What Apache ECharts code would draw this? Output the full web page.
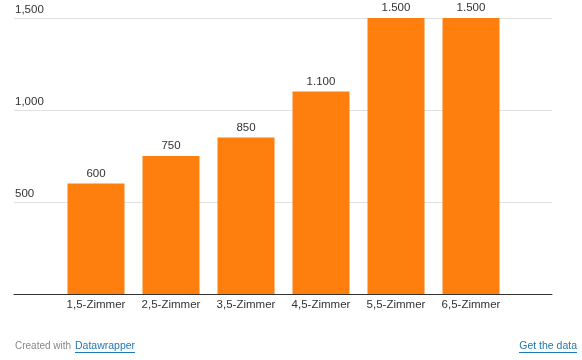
<!DOCTYPE html>
<html>
<head>
<meta charset="utf-8">
<style>html,body{margin:0;padding:0;background:#fff;}#c{width:582px;height:360px;}</style>
<script src="https://cdn.jsdelivr.net/npm/echarts@6/dist/echarts.min.js"></script>
</head>
<body>
<div id="c"></div>
<script>
var categories = ['1,5-Zimmer','2,5-Zimmer','3,5-Zimmer','4,5-Zimmer','5,5-Zimmer','6,5-Zimmer'];
var values = [600, 750, 850, 1100, 1500, 1500];
var yTicks = [0, 500, 1000, 1500];

var FONT = '"Liberation Sans", Arial, sans-serif';
var chart = echarts.init(document.getElementById('c'), null, {renderer: 'canvas'});
function comma(v){ return String(v).replace(/\B(?=(\d{3})+(?!\d))/g, ','); }
function dot(v){ return String(v).replace(/\B(?=(\d{3})+(?!\d))/g, '.'); }

chart.setOption({
  animation: false,
  textStyle: {fontFamily: FONT},
  grid: [
    {left: 58.5, right: 73.5, top: 18, bottom: 66},
    {left: 14, right: 30, top: 18, bottom: 66}
  ],
  xAxis: [
    {gridIndex: 0, type: 'category', data: categories,
     axisLine: {show: false}, axisTick: {show: false},
     axisLabel: {interval: 0, color: '#333', fontSize: 11.5, margin: 5, fontFamily: FONT}},
    {gridIndex: 1, type: 'value', min: 0, max: 1, show: true,
     axisLine: {show: true, onZero: false, lineStyle: {color: '#333', width: 1}},
     axisTick: {show: false}, axisLabel: {show: false}, splitLine: {show: false}}
  ],
  yAxis: [
    {gridIndex: 0, type: 'value', min: yTicks[0], max: yTicks[yTicks.length-1], interval: 500,
     show: false, splitLine: {show: false}},
    {gridIndex: 1, type: 'value', min: yTicks[0], max: yTicks[yTicks.length-1], interval: 500,
     axisLine: {show: false}, axisTick: {show: false},
     splitLine: {show: true, lineStyle: {color: '#e0e0e0', width: 1}},
     axisLabel: {inside: true, margin: 1, verticalAlign: 'bottom', padding: [0,0,2,0],
       color: '#333', fontSize: 11.5, fontFamily: FONT,
       formatter: function(v){ return v === 0 ? '' : comma(v); }}}
  ],
  series: [{
    type: 'bar', xAxisIndex: 0, yAxisIndex: 0, z: 5,
    data: values, barWidth: '76%',
    itemStyle: {color: '#ff7f0e'},
    label: {show: true, position: 'top', distance: 4, color: '#333', fontSize: 11.5, fontFamily: FONT,
      formatter: function(p){ return dot(p.value); }}
  }],
  graphic: [
    {type: 'text', left: 15, top: 341, style: {text: 'Created with', fill: '#888', font: '10px ' + FONT}},
    {type: 'text', left: 75, top: 341, style: {text: 'Datawrapper', fill: '#1f77b4', font: '10.5px ' + FONT}},
    {type: 'line', shape: {x1: 75, y1: 352.5, x2: 135, y2: 352.5}, style: {stroke: '#1f77b4', lineWidth: 1}},
    {type: 'text', right: 5, top: 341, style: {text: 'Get the data', fill: '#1f77b4', font: '10.5px ' + FONT}},
    {type: 'line', shape: {x1: 519, y1: 352.5, x2: 577, y2: 352.5}, style: {stroke: '#1f77b4', lineWidth: 1}}
  ]
});
</script>
</body>
</html>
